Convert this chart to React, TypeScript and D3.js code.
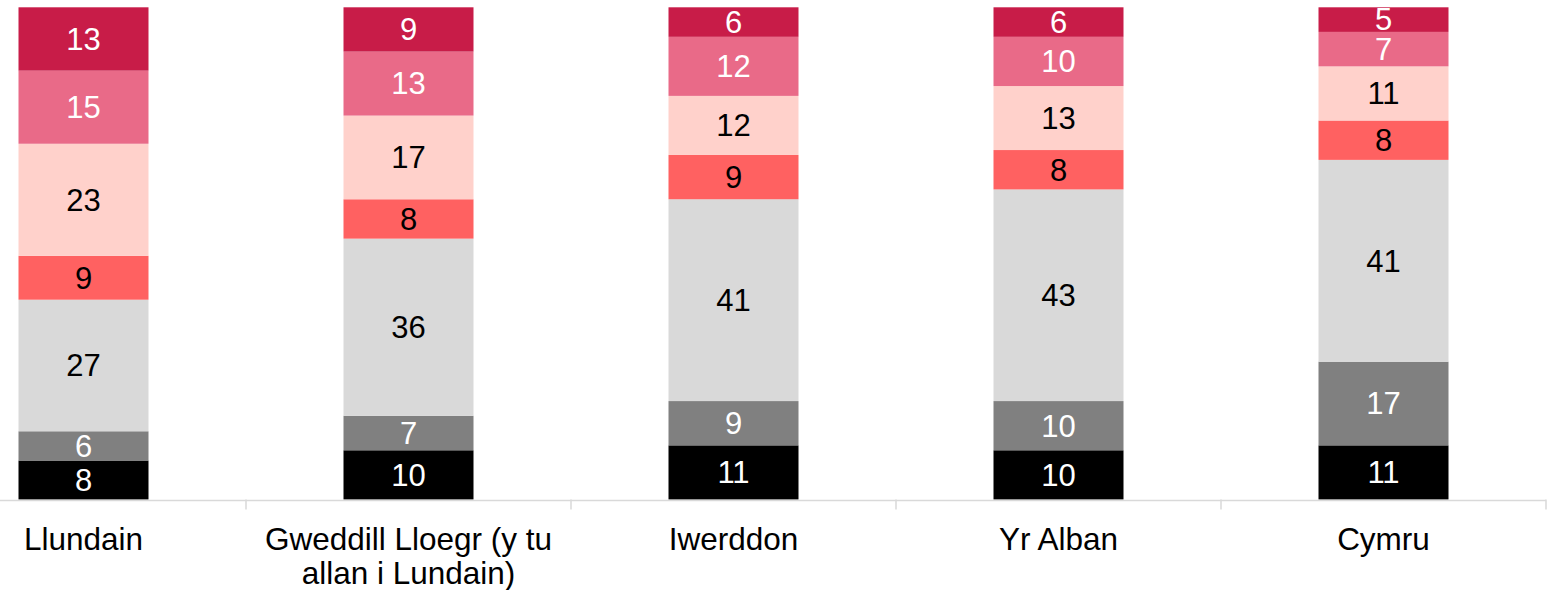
import React from "react";
import * as d3 from "d3";

const categories = ["Llundain", "Gweddill Lloegr (y tu allan i Lundain)", "Iwerddon", "Yr Alban", "Cymru"];
const categoryLines = [["Llundain"], ["Gweddill Lloegr (y tu", "allan i Lundain)"], ["Iwerddon"], ["Yr Alban"], ["Cymru"]];

const seriesNames = ["s1", "s2", "s3", "s4", "s5", "s6", "s7"];
const s1 = [8, 10, 11, 10, 11];
const s2 = [6, 7, 9, 10, 17];
const s3 = [27, 36, 41, 43, 41];
const s4 = [9, 8, 9, 8, 8];
const s5 = [23, 17, 12, 13, 11];
const s6 = [15, 13, 12, 10, 7];
const s7 = [13, 9, 6, 6, 5];
const seriesValues = [s1, s2, s3, s4, s5, s6, s7];

const colors = ["#000000", "#808080", "#d9d9d9", "#ff6161", "#ffd1cb", "#e96a88", "#c81c48"];
const labelColors = ["#ffffff", "#ffffff", "#000000", "#000000", "#000000", "#ffffff", "#ffffff"];

const W = 1552;
const H = 590;
const top = 7.3;
const bottom = 499.5;

export default function App() {
  const rows = categories.map((c, i) => {
    const r: any = { cat: c };
    seriesNames.forEach((s, j) => (r[s] = seriesValues[j][i]));
    return r;
  });
  const stack = d3.stack<any>().keys(seriesNames).offset(d3.stackOffsetExpand);
  const stacked = stack(rows);

  const x = d3.scaleBand<string>().domain(categories).range([-79, 1546]).paddingInner(0.6).paddingOuter(0.3);
  const y = d3.scaleLinear().domain([0, 1]).range([bottom, top]);
  const step = x.step();
  const x0 = -79;

  const font = "Liberation Sans, Arial, sans-serif";

  return (
    <div style={{ position: "fixed", left: 0, top: 0 }}>
      <svg width={W} height={H} style={{ display: "block", background: "#fff" }}>
        {stacked.map((layer, j) => (
          <g key={seriesNames[j]}>
            {layer.map((d, i) => {
              const yTop = y(d[1]);
              const yBot = y(d[0]);
              return (
                <g key={i}>
                  <rect x={x(categories[i])} y={yTop} width={x.bandwidth()} height={yBot - yTop} fill={colors[j]} />
                  <text
                    x={(x(categories[i]) as number) + x.bandwidth() / 2}
                    y={(yTop + yBot) / 2}
                    dy="0.35em"
                    textAnchor="middle"
                    fontFamily={font}
                    fontSize={31}
                    fill={labelColors[j]}
                  >
                    {seriesValues[j][i]}
                  </text>
                </g>
              );
            })}
          </g>
        ))}
        <line x1={0} x2={1546} y1={bottom + 1} y2={bottom + 1} stroke="#d9d9d9" strokeWidth={1.5} />
        {d3.range(categories.length + 1).map((k) => (
          <line
            key={k}
            x1={x0 + k * step}
            x2={x0 + k * step}
            y1={bottom}
            y2={bottom + 10}
            stroke="#d9d9d9"
            strokeWidth={1.5}
          />
        ))}
        {categoryLines.map((lines, i) => (
          <text
            key={i}
            x={(x(categories[i]) as number) + x.bandwidth() / 2}
            y={550}
            textAnchor="middle"
            fontFamily={font}
            fontSize={31.5}
            fill="#000"
          >
            {lines.map((l, k) => (
              <tspan key={k} x={(x(categories[i]) as number) + x.bandwidth() / 2} dy={k === 0 ? 0 : 33.5}>
                {l}
              </tspan>
            ))}
          </text>
        ))}
      </svg>
    </div>
  );
}
